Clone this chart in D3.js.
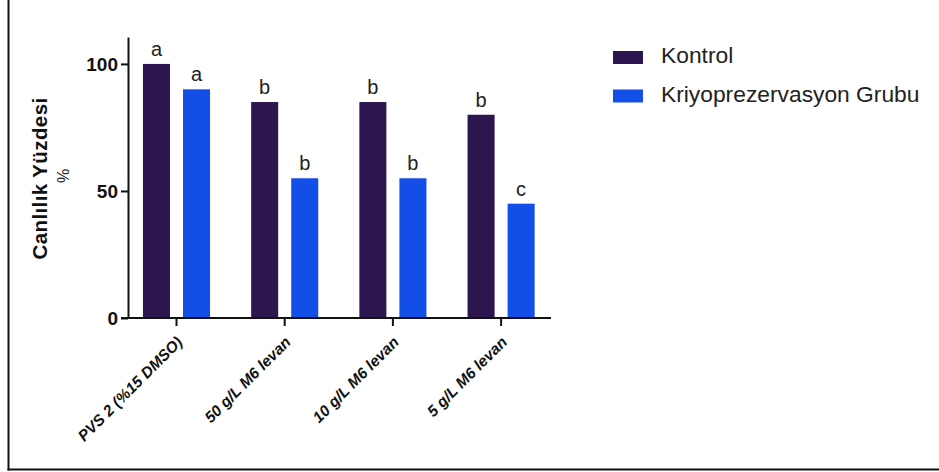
<!DOCTYPE html>
<html>
<head>
<meta charset="utf-8">
<script src="https://cdn.jsdelivr.net/npm/d3@7"></script>
<style>
  html, body { margin: 0; padding: 0; background: #fff; }
  svg { display: block; font-family: "Liberation Sans", Arial, sans-serif; }
</style>
</head>
<body>
<svg id="chart" width="939" height="472"></svg>
<script>
// Viability (%) per cryopreservation treatment
const categories = ["PVS 2 (%15 DMSO)", "50 g/L M6 levan", "10 g/L M6 levan", "5 g/L M6 levan"];
const seriesNames = ["Kontrol", "Kriyoprezervasyon Grubu"];
const kontrolValues = [100, 85, 85, 80];
const kriyoValues = [90, 55, 55, 45];
const kontrolLetters = ["a", "b", "b", "b"];
const kriyoLetters = ["a", "b", "b", "c"];
const yTicks = [0, 50, 100];
const colors = ["#2d1650", "#134ee6"];

const series = [
  { name: seriesNames[0], values: kontrolValues, letters: kontrolLetters, color: colors[0] },
  { name: seriesNames[1], values: kriyoValues, letters: kriyoLetters, color: colors[1] }
];

const svg = d3.select("#chart");

// frame lines on the left and bottom edges
svg.append("line").attr("x1", 8.5).attr("x2", 8.5).attr("y1", 0).attr("y2", 470.5)
  .attr("stroke", "#111").attr("stroke-width", 2);
svg.append("line").attr("x1", 7.5).attr("x2", 939).attr("y1", 469.5).attr("y2", 469.5)
  .attr("stroke", "#111").attr("stroke-width", 2);

const y = d3.scaleLinear().domain([0, 110.6]).range([318, 37]);
const x0 = d3.scaleBand().domain(categories).range([122.4, 555.2])
  .paddingInner(0.38).paddingOuter(0.19);
const x1 = d3.scaleBand().domain(seriesNames).range([0, x0.bandwidth()]).paddingInner(0.325);

// bars
const groups = svg.append("g").selectAll("g")
  .data(categories)
  .join("g")
  .attr("transform", d => `translate(${x0(d)},0)`);

groups.selectAll("rect")
  .data((d, i) => series.map(s => ({ name: s.name, v: s.values[i], color: s.color })))
  .join("rect")
  .attr("x", d => x1(d.name))
  .attr("width", x1.bandwidth())
  .attr("y", d => y(d.v))
  .attr("height", d => y(0) - y(d.v))
  .attr("fill", d => d.color);

// significance letters above bars
groups.selectAll("text.sig")
  .data((d, i) => series.map(s => ({ name: s.name, v: s.values[i], t: s.letters[i] })))
  .join("text")
  .attr("class", "sig")
  .attr("x", d => x1(d.name) + x1.bandwidth() / 2)
  .attr("y", d => y(d.v) - 8)
  .attr("text-anchor", "middle")
  .attr("font-size", 20)
  .attr("fill", "#222")
  .text(d => d.t);

// y axis
const yAxis = svg.append("g")
  .attr("transform", "translate(128,0)")
  .call(d3.axisLeft(y).tickValues(yTicks).tickSize(7).tickSizeOuter(0).tickPadding(3));
yAxis.select(".domain").attr("stroke", "#111").attr("stroke-width", 2);
yAxis.selectAll(".tick line").attr("stroke", "#111").attr("stroke-width", 2);
yAxis.selectAll(".tick text")
  .attr("font-size", 19).attr("font-weight", "bold").attr("fill", "#111")
  .attr("font-family", "Liberation Sans, Arial, sans-serif");

// x axis
const xAxis = svg.append("g")
  .attr("transform", `translate(0,${y(0)})`)
  .call(d3.axisBottom(x0).tickSize(8).tickSizeOuter(0).tickPadding(4));
xAxis.select(".domain").attr("d", "M121,0H551").attr("stroke", "#111").attr("stroke-width", 2);
xAxis.selectAll(".tick line").attr("stroke", "#111").attr("stroke-width", 2);
xAxis.selectAll(".tick text")
  .attr("font-size", 15.5).attr("font-weight", "bold").attr("font-style", "italic")
  .attr("fill", "#111")
  .attr("font-family", "Liberation Sans, Arial, sans-serif")
  .attr("text-anchor", "end")
  .attr("dy", null)
  .attr("y", 0)
  .attr("transform", "translate(7,25) rotate(-45)");

// y axis title
svg.append("text")
  .attr("transform", "translate(47,178.5) rotate(-90)")
  .attr("text-anchor", "middle")
  .attr("font-size", 20.5)
  .attr("font-weight", "bold")
  .attr("letter-spacing", 0.4)
  .attr("fill", "#111")
  .text("Canlılık Yüzdesi");
svg.append("text")
  .attr("transform", "translate(69,176) rotate(-90)")
  .attr("text-anchor", "middle")
  .attr("font-size", 16)
  .attr("fill", "#222")
  .text("%");

// legend
const legend = svg.append("g").selectAll("g")
  .data(series)
  .join("g")
  .attr("transform", (d, i) => `translate(613,${51 + i * 38.5})`);
legend.append("rect")
  .attr("width", 30).attr("height", 13)
  .attr("fill", d => d.color);
legend.append("text")
  .attr("x", 48).attr("y", 12)
  .attr("font-size", 22.8)
  .attr("fill", "#222")
  .text(d => d.name);
</script>
</body>
</html>
